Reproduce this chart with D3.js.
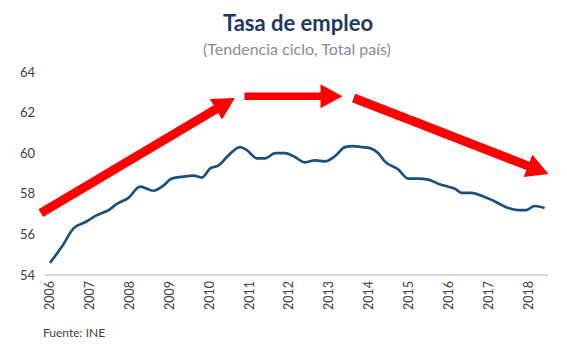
<!DOCTYPE html>
<html>
<head>
<meta charset="utf-8">
<script src="https://cdn.jsdelivr.net/npm/d3@7"></script>
<style>
    body { margin: 0; background: #fff; }
    text { font-family: Lato, "Open Sans", sans-serif; }
</style>
</head>
<body>
<div id="chart"></div>
<script>
// decimal year of each reading, and employment rate (%)
let dates = [2006.0, 2006.3, 2006.59, 2006.88, 2007.18, 2007.47, 2007.68, 2007.97, 2008.26, 2008.6,
    2008.81, 2009.06, 2009.35, 2009.6, 2009.81, 2010.02, 2010.23, 2010.48, 2010.77, 2010.94,
    2011.19, 2011.4, 2011.65, 2011.9, 2012.11, 2012.4, 2012.65, 2012.9, 2013.15, 2013.4,
    2013.61, 2013.82, 2014.03, 2014.24, 2014.4, 2014.74, 2014.99, 2015.24, 2015.49, 2015.74,
    2015.99, 2016.16, 2016.33, 2016.58, 2016.83, 2017.08, 2017.33, 2017.5, 2017.75, 2017.95,
    2018.16, 2018.41];
let values = [54.6, 55.4, 56.3, 56.6, 56.95, 57.2, 57.5, 57.8, 58.35, 58.15,
    58.35, 58.75, 58.85, 58.9, 58.8, 59.25, 59.4, 59.9, 60.3, 60.15,
    59.75, 59.75, 60.0, 60.0, 59.85, 59.55, 59.65, 59.6, 59.85, 60.3,
    60.35, 60.3, 60.25, 60.0, 59.6, 59.2, 58.75, 58.75, 58.7, 58.5,
    58.35, 58.25, 58.05, 58.05, 57.9, 57.7, 57.45, 57.3, 57.2, 57.2,
    57.4, 57.3];

let yearLabels = d3.range(2006, 2019);
let yTicks = [54, 56, 58, 60, 62, 64];

// trend arrows (start year, start value, end year, end value)
let arrows = [
    {x1: 2005.77, y1: 57.05, x2: 2010.64, y2: 62.72, w: 9},
    {x1: 2010.88, y1: 62.8, x2: 2013.34, y2: 62.8, w: 7.5},
    {x1: 2013.62, y1: 62.72, x2: 2018.51, y2: 58.98, w: 9}
];

let width = 567, height = 352;

let svg = d3.select("#chart").append("svg")
    .attr("width", width)
    .attr("height", height);

let x = d3.scaleLinear().domain([2006, 2018]).range([50, 528.2]);
let y = d3.scaleLinear().domain([54, 64]).range([275, 72]);

// titles
svg.append("text")
    .attr("x", 298).attr("y", 31)
    .attr("text-anchor", "middle")
    .attr("font-size", 22)
    .attr("font-weight", "bold")
    .attr("fill", "#1f3864")
    .text("Tasa de empleo");

svg.append("text")
    .attr("x", 297).attr("y", 55)
    .attr("text-anchor", "middle")
    .attr("font-size", 16)
    .attr("fill", "#8c8c8c")
    .text("(Tendencia ciclo, Total país)");

// y axis labels
svg.selectAll(".ylab")
    .data(yTicks)
    .enter().append("text")
    .attr("class", "ylab")
    .attr("x", 35)
    .attr("y", d => y(d))
    .attr("dy", "0.35em")
    .attr("text-anchor", "end")
    .attr("font-size", 13)
    .attr("fill", "#404040")
    .text(d => d);

// baseline
svg.append("line")
    .attr("x1", 45).attr("x2", 548)
    .attr("y1", y(54)).attr("y2", y(54))
    .attr("stroke", "#c8c8c8")
    .attr("stroke-width", 1.5);

// x axis labels, rotated
svg.selectAll(".xlab")
    .data(yearLabels)
    .enter().append("text")
    .attr("class", "xlab")
    .attr("transform", d => `translate(${x(d)}, 281) rotate(-90)`)
    .attr("dy", "0.35em")
    .attr("text-anchor", "end")
    .attr("font-size", 12.5)
    .attr("fill", "#404040")
    .text(d => d);

svg.append("text")
    .attr("x", 43).attr("y", 337)
    .attr("font-size", 12)
    .attr("fill", "#404040")
    .text("Fuente: INE");

// series line
let line = d3.line()
    .x((d, i) => x(dates[i]))
    .y(d => y(d))
    .curve(d3.curveMonotoneX);

svg.append("path")
    .datum(values)
    .attr("fill", "none")
    .attr("stroke", "#1a4f80")
    .attr("stroke-width", 2.7)
    .attr("d", line);

// arrows as polygons
function arrowPoints(a) {
    let sx = x(a.x1), sy = y(a.y1), ex = x(a.x2), ey = y(a.y2);
    let dx = ex - sx, dy = ey - sy;
    let len = Math.sqrt(dx * dx + dy * dy);
    let ux = dx / len, uy = dy / len;
    let px = -uy, py = ux;
    let headLen = 22, headW = 12, hw = a.w / 2;
    let bx = ex - ux * headLen, by = ey - uy * headLen;
    return [
        [sx + px * hw, sy + py * hw],
        [bx + px * hw, by + py * hw],
        [bx + px * headW, by + py * headW],
        [ex, ey],
        [bx - px * headW, by - py * headW],
        [bx - px * hw, by - py * hw],
        [sx - px * hw, sy - py * hw]
    ].map(p => p.join(",")).join(" ");
}

svg.selectAll(".arrow")
    .data(arrows)
    .enter().append("polygon")
    .attr("class", "arrow")
    .attr("points", d => arrowPoints(d))
    .attr("fill", "#ff0000");
</script>
</body>
</html>
